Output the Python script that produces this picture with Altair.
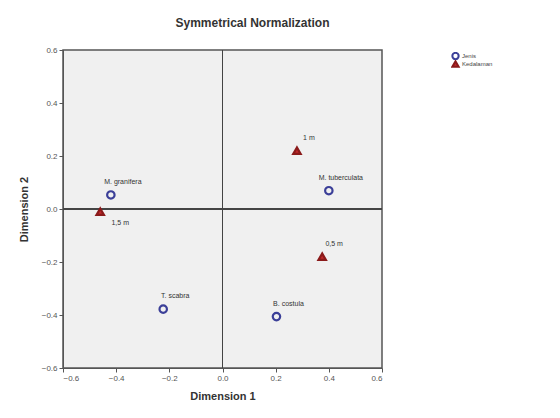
import altair as alt
import pandas as pd

labels = ["M. granifera", "T. scabra", "B. costula", "M. tuberculata", "1 m", "0,5 m", "1,5 m"]
dim1 = [-0.42, -0.223, 0.203, 0.40, 0.28, 0.375, -0.46]
dim2 = [0.053, -0.378, -0.406, 0.069, 0.22, -0.18, -0.01]
groups = ["Jenis"] * 4 + ["Kedalaman"] * 3
ticks = [-0.6, -0.4, -0.2, 0.0, 0.2, 0.4, 0.6]

df = pd.DataFrame({"label": labels, "d1": dim1, "d2": dim2, "group": groups})

xs = alt.Scale(domain=[-0.6, 0.6], nice=False, zero=False)
ys = alt.Scale(domain=[-0.6, 0.6], nice=False, zero=False)

xax = alt.Axis(values=ticks, format=".1f", grid=False, tickSize=4, labelFontSize=8,
               labelColor="#555", titleFontSize=11, titleFontWeight="bold",
               titleColor="#333", domainColor="#555", tickColor="#555", titlePadding=8)
yax = alt.Axis(values=ticks, format=".1f", grid=False, tickSize=4, labelFontSize=8,
               labelColor="#555", titleFontSize=11, titleFontWeight="bold",
               titleColor="#333", domainColor="#555", tickColor="#555", titlePadding=12)

base = alt.Chart(df)

rules_x = alt.Chart(df).mark_rule(color="#444", strokeWidth=1).encode(x=alt.datum(0, scale=xs))
rules_y = alt.Chart(df).mark_rule(color="#444", strokeWidth=1).encode(y=alt.datum(0, scale=ys))

points = base.mark_point(size=55, strokeWidth=2.2, opacity=1).encode(
    x=alt.X("d1:Q", scale=xs, axis=xax, title="Dimension 1"),
    y=alt.Y("d2:Q", scale=ys, axis=yax, title="Dimension 2"),
    shape=alt.Shape("group:N", scale=alt.Scale(domain=["Jenis", "Kedalaman"], range=["circle", "triangle-up"]),
                    legend=alt.Legend(title=None, orient="none", legendX=388, legendY=2,
                                      labelFontSize=6, symbolSize=40, rowPadding=0, clipHeight=8,
                                      labelOffset=2, labelColor="#444", symbolStrokeWidth=2)),
    stroke=alt.Stroke("group:N", scale=alt.Scale(domain=["Jenis", "Kedalaman"], range=["#3b3f98", "#8a1a1a"])),
    fill=alt.Fill("group:N", scale=alt.Scale(domain=["Jenis", "Kedalaman"], range=["transparent", "#c0282a"])),
)

text_main = base.transform_filter(alt.datum.label != "1,5 m").mark_text(
    fontSize=7, color="#333", dx=12, dy=-13, align="center"
).encode(x=alt.X("d1:Q", scale=xs), y=alt.Y("d2:Q", scale=ys), text="label:N")

text_low = base.transform_filter(alt.datum.label == "1,5 m").mark_text(
    fontSize=7, color="#333", dx=20, dy=11, align="center"
).encode(x=alt.X("d1:Q", scale=xs), y=alt.Y("d2:Q", scale=ys), text="label:N")

chart = alt.layer(rules_x, rules_y, points, text_main, text_low).properties(
    width=319, height=318,
    title=alt.TitleParams("Symmetrical Normalization", fontSize=12, fontWeight="bold",
                          anchor="middle", frame="group", dx=30, offset=16, color="#333"),
    padding={"left": 55, "top": 42, "right": 150, "bottom": 36},
    autosize=alt.AutoSizeParams(type="none"),
).configure_view(fill="#f0f0f0", stroke="#555", strokeWidth=1.5)

chart.save("out.html", embed_options={"renderer": "svg", "actions": False})
